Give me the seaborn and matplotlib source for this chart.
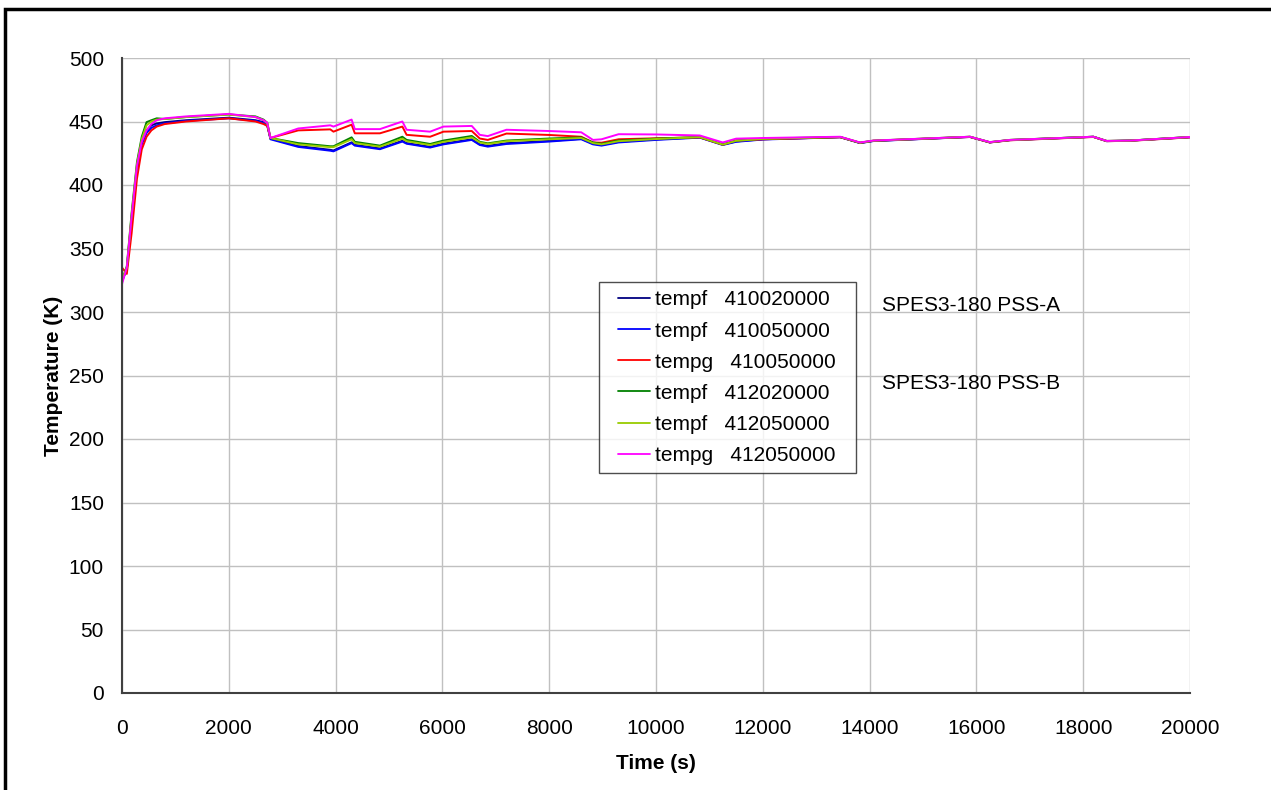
import numpy as np
import pandas as pd
import matplotlib
matplotlib.use("Agg")
import matplotlib.pyplot as plt
import seaborn as sns
from matplotlib.patches import Rectangle
from matplotlib.lines import Line2D
from matplotlib.legend_handler import HandlerLine2D

time_s = [0, 90, 180, 280, 370, 460, 550, 650, 800, 1200,
          2000, 2500, 2650, 2720, 2780, 3300, 3900, 3960, 4300, 4360,
          4830, 5250, 5330, 5770, 6020, 6550, 6700, 6850, 7200, 8000,
          8600, 8820, 8980, 9300, 10000, 10820, 11250, 11500, 12000, 13450,
          13820, 14070, 15880, 16250, 16630, 18190, 18440, 18880, 20000]

tempf_410020000 = [324, 334, 374, 414, 434, 443, 447, 448.5, 449.5, 451,
                   453, 451, 449.5, 447.5, 436.5, 430.7, 427.7, 427.2, 433.6, 431.6,
                   428.8, 434.8, 433, 430.1, 432.6, 436, 432, 430.8, 432.9, 434.7,
                   436.4, 432.5, 431.5, 434, 435.9, 437.5, 431.8, 434.3, 436, 437.7,
                   433.1, 434.7, 437.9, 433.6, 435.4, 438, 434.6, 435, 437.7]

tempf_410050000 = [325, 333, 372, 412, 432, 441, 445, 447, 448.5, 450.5,
                   452.5, 450.5, 449, 447, 436, 430, 427, 426.5, 433, 431,
                   428.2, 434.2, 432.5, 429.5, 432, 435.5, 431.5, 430.2, 432.3, 434.2,
                   436, 432, 431, 433.5, 435.5, 437.3, 431.5, 434, 435.8, 437.6,
                   433, 434.6, 437.8, 433.5, 435.3, 437.9, 434.5, 434.9, 437.6]

tempg_410050000 = [335, 330, 362, 405, 428, 438, 443, 446, 448, 450,
                   452.5, 450, 448, 446.5, 437, 443, 443.8, 442, 447.5, 440.7,
                   440.7, 446, 439.5, 438, 442, 442.5, 436.6, 435.5, 440.5, 439.4,
                   438, 433.5, 433.3, 436, 436.8, 437.5, 431.8, 435, 436, 437.6,
                   433.2, 434.8, 437.8, 433.5, 435.2, 437.8, 434.5, 434.8, 437.5]

tempf_412020000 = [325, 336, 378, 418, 438, 449.5, 451, 452.5, 452, 453.5,
                   455.5, 454, 451.5, 449, 437, 433, 430.5, 430.5, 437.5, 434,
                   431, 438, 435.5, 432.3, 435, 438.6, 434, 432.8, 435, 436.6,
                   437.5, 433.5, 432.5, 435, 436.5, 437.8, 432, 435, 436.5, 437.8,
                   433.3, 434.9, 438, 433.7, 435.5, 438, 434.7, 435, 437.8]

tempf_412050000 = [325, 335, 376, 416, 436, 447, 450, 451.5, 452, 453.5,
                   455.5, 453.5, 451, 448.5, 437, 432, 429.8, 429.8, 436, 433,
                   430.2, 436.5, 434.5, 431.5, 434, 437.5, 433.5, 432.3, 434.5, 436,
                   437, 433, 432, 434.5, 436.2, 437.7, 431.8, 434.8, 436.3, 437.8,
                   433.3, 434.9, 438, 433.7, 435.5, 438, 434.7, 435, 437.8]

tempg_412050000 = [322, 335, 375, 415, 434, 443, 448, 451, 452.5, 454,
                   456, 453.5, 451, 449, 437, 444.5, 447, 446, 451.5, 444,
                   444, 450, 443.5, 442, 446, 446.5, 439.5, 438.5, 443.5, 442.5,
                   441.5, 435.5, 436, 440, 439.8, 439, 433.5, 436.5, 437, 438,
                   433.5, 435, 438, 433.8, 435.5, 438, 434.7, 435, 437.8]

series_labels = ["tempf   410020000", "tempf   410050000", "tempg   410050000",
                 "tempf   412020000", "tempf   412050000", "tempg   412050000"]
series_values = [tempf_410020000, tempf_410050000, tempg_410050000,
                 tempf_412020000, tempf_412050000, tempg_412050000]
series_colors = ["#000080", "#0000FF", "#FF0000", "#008000", "#99CC00", "#FF00FF"]

x_ticks = list(range(0, 20001, 2000))
y_ticks = list(range(0, 501, 50))

frames = []
for lab, vals in zip(series_labels, series_values):
    frames.append(pd.DataFrame({"Time": time_s, "Temp": vals, "Series": lab}))
df = pd.concat(frames, ignore_index=True)

sns.set_theme(style="white")
plt.rcParams["font.family"] = ["Liberation Sans", "DejaVu Sans"]
plt.rcParams["text.color"] = "black"
plt.rcParams["axes.labelcolor"] = "black"

fig = plt.figure(figsize=(12.71, 7.90), dpi=100)
ax = fig.add_axes([122 / 1271, 1 - 693 / 790, 1068 / 1271, 635 / 790])

sns.lineplot(data=df, x="Time", y="Temp", hue="Series", hue_order=series_labels,
             palette=dict(zip(series_labels, series_colors)), linewidth=1.4,
             ax=ax, legend=True, estimator=None, sort=False)

ax.set_xlim(0, 20000)
ax.set_ylim(0, 500)
ax.set_xticks(x_ticks)
ax.set_yticks(y_ticks)
ax.grid(True, color="#C0C0C0", linewidth=1.0)
ax.set_axisbelow(True)
for s in ["top", "right"]:
    ax.spines[s].set_visible(False)
for s in ["left", "bottom"]:
    ax.spines[s].set_color("#404040")
    ax.spines[s].set_linewidth(1.5)
ax.tick_params(axis="both", direction="out", length=5, width=1, color="#404040",
               labelsize=15, labelcolor="black")
ax.tick_params(axis="x", pad=14)
ax.tick_params(axis="y", pad=8)
ax.set_xlabel("Time (s)", fontsize=15, fontweight="bold", labelpad=11, color="black")
ax.set_ylabel("Temperature (K)", fontsize=15, fontweight="bold", labelpad=4, color="black")

fs_px = 15 * 100 / 72.0
handles, labels = ax.get_legend_handles_labels()
leg = ax.legend(handles, labels, loc="upper left",
                bbox_to_anchor=(0.4466, 0.2, (856 - 599) / 1068, 0.447),
                mode="expand", borderaxespad=0, fontsize=15, frameon=True, fancybox=False,
                handlelength=43 / fs_px, labelspacing=0.58, borderpad=0.4,
                handletextpad=5 / fs_px,
                handler_map={Line2D: HandlerLine2D(xpad=11 / fs_px)})
leg.get_frame().set_edgecolor("#202020")
leg.get_frame().set_linewidth(1.0)
for line in leg.get_lines():
    line.set_linewidth(1.3)

ax.text(0.7116, 0.611, "SPES3-180 PSS-A", transform=ax.transAxes, fontsize=15,
        va="center", ha="left", color="black")
ax.text(0.7116, 0.488, "SPES3-180 PSS-B", transform=ax.transAxes, fontsize=15,
        va="center", ha="left", color="black")

border = Rectangle((5 / 1271, -0.2), 1.3, 1.2 - 9 / 790, transform=fig.transFigure,
                   fill=False, edgecolor="black", linewidth=2.5, clip_on=False)
fig.add_artist(border)

fig.savefig("out.png", dpi=100)
